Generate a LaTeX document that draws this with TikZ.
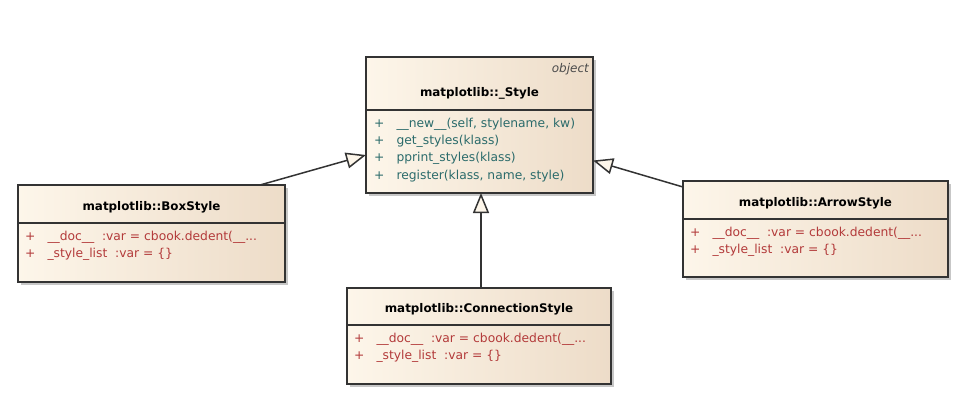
\documentclass[tikz,border=0pt]{standalone}
\usepackage{fontspec}
\setmainfont{DejaVu Sans}
\usetikzlibrary{arrows.meta,shadows,positioning}
\definecolor{classleft}{HTML}{FDF6EA}
\definecolor{classright}{HTML}{EDDCC8}
\definecolor{umlline}{HTML}{333333}
\definecolor{opcolor}{HTML}{2B6B6B}
\definecolor{attrcolor}{HTML}{B33A3A}
\tikzset{
  classpart/.style={draw=umlline,line width=1.4pt,left color=classleft,right color=classright,inner sep=0pt,outer sep=0pt,
    drop shadow={shadow xshift=3pt,shadow yshift=-3pt,fill=black!22,opacity=1}},
  classhead/.style={classpart,font=\fontsize{11.9}{17}\selectfont\bfseries,text height=15pt,text depth=2.6pt},
  classbody/.style={classpart},
  stereo/.style={inner sep=0pt,font=\fontsize{12}{14}\selectfont\itshape,text=black!70},
  opslist/.style={inner sep=0pt,anchor=north west,text=opcolor,font=\fontsize{12.3}{17.3}\selectfont},
  attrlist/.style={opslist,text=attrcolor},
  generalization/.style={draw=umlline,line width=1.5pt,-{Triangle[length=20pt,width=16pt,fill=classleft]}}
}
\newcommand{\memberrows}[1]{\begin{tabular}{@{}l@{\hspace{12pt}}l@{}}#1\end{tabular}}

\begin{document}
\begin{tikzpicture}[x=1pt,y=-1pt]
  \useasboundingbox (0,0) rectangle (966,416);
  % base class
  \node[classhead,anchor=north west,minimum width=227pt,minimum height=53pt,text height=28pt] (stylehead) at (366,57) {matplotlib::\_Style};
  \node[stereo,anchor=north east] (styleobj) at ([xshift=-4pt,yshift=-6pt]stylehead.north east) {object};
  \node[classbody,anchor=north,minimum width=227pt,minimum height=83pt] (stylebody) at (stylehead.south) {};
  \node[opslist] (styleops) at ([xshift=8pt,yshift=-5pt]stylebody.north west) {\memberrows{
    + & \_\_new\_\_(self, stylename, kw)\\
    + & get\_styles(klass)\\
    + & pprint\_styles(klass)\\
    + & register(klass, name, style)}};
  % box style
  \node[classhead,anchor=north west,minimum width=267pt,minimum height=38pt] (boxhead) at (18,185) {matplotlib::BoxStyle};
  \node[classbody,anchor=north,minimum width=267pt,minimum height=59pt] (boxbody) at (boxhead.south) {};
  \node[attrlist] (boxattrs) at ([xshift=7pt,yshift=-5pt]boxbody.north west) {\memberrows{
    + & \_\_doc\_\_\ \ :var = cbook.dedent(\_\_...\\
    + & \_style\_list\ \ :var = \{\}}};
  % arrow style
  \node[classhead,anchor=north west,minimum width=265pt,minimum height=38pt] (arrowhead) at (683,181) {matplotlib::ArrowStyle};
  \node[classbody,anchor=north,minimum width=265pt,minimum height=58pt] (arrowbody) at (arrowhead.south) {};
  \node[attrlist] (arrowattrs) at ([xshift=7pt,yshift=-5pt]arrowbody.north west) {\memberrows{
    + & \_\_doc\_\_\ \ :var = cbook.dedent(\_\_...\\
    + & \_style\_list\ \ :var = \{\}}};
  % connection style
  \node[classhead,anchor=north west,minimum width=264pt,minimum height=37pt] (connhead) at (347,288) {matplotlib::ConnectionStyle};
  \node[classbody,anchor=north,minimum width=264pt,minimum height=59pt] (connbody) at (connhead.south) {};
  \node[attrlist] (connattrs) at ([xshift=7pt,yshift=-5pt]connbody.north west) {\memberrows{
    + & \_\_doc\_\_\ \ :var = cbook.dedent(\_\_...\\
    + & \_style\_list\ \ :var = \{\}}};
  % generalizations
  \draw[generalization] ([xshift=-25pt]boxhead.north east) -- ([yshift=-3.5pt]stylebody.west);
  \draw[generalization] ([yshift=-6pt]arrowhead.north west) -- ([yshift=-9pt]stylebody.east);
  \draw[generalization] ([xshift=2pt]connhead.north) -- ([xshift=2pt]connhead.north |- stylebody.south);
\end{tikzpicture}
\end{document}
